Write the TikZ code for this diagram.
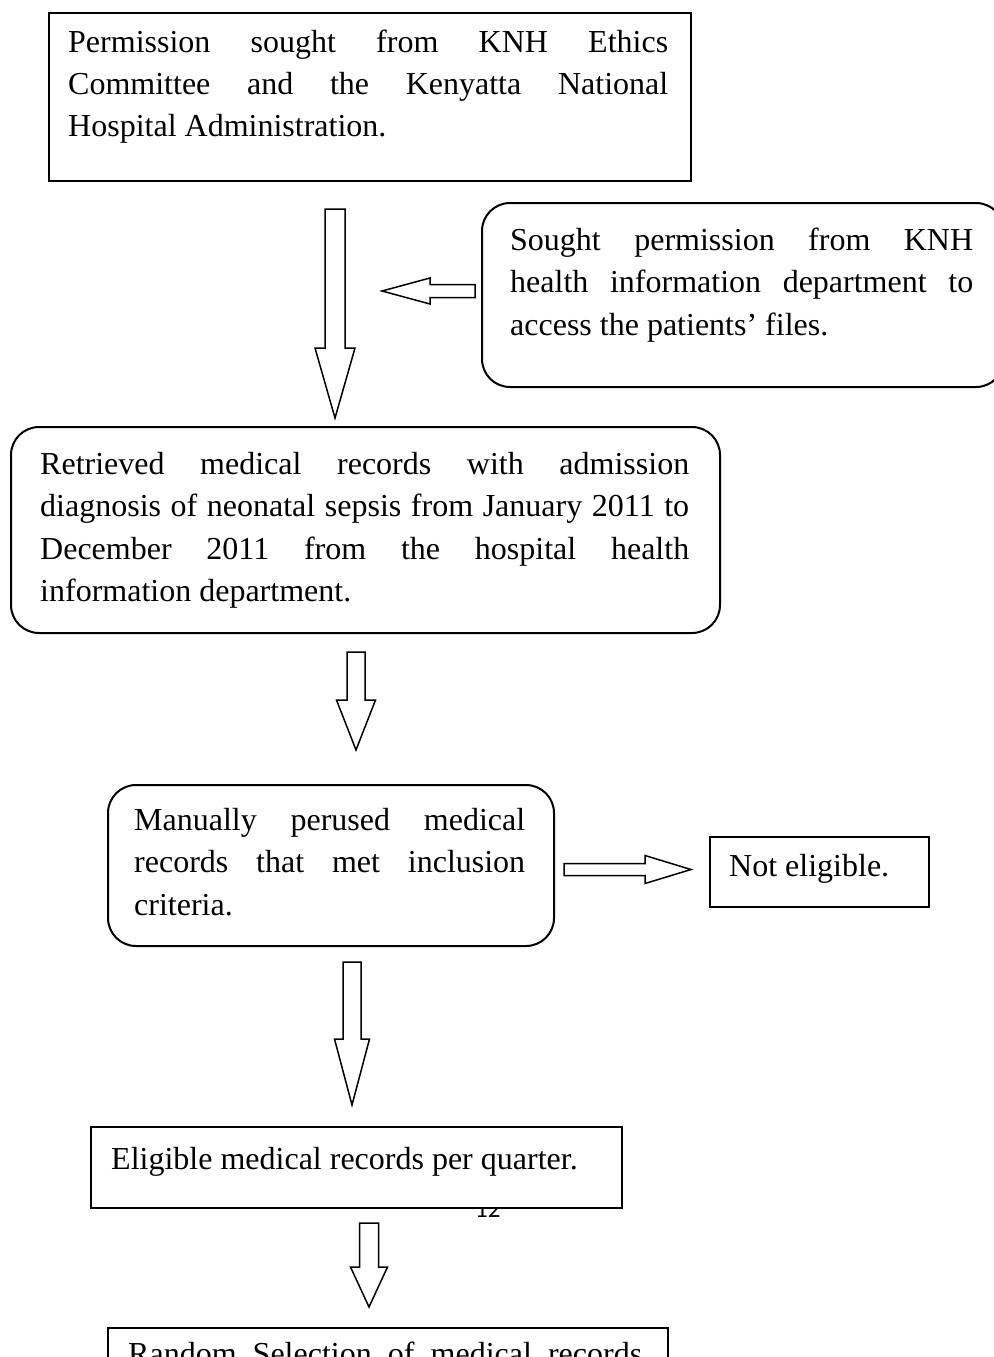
\documentclass[tikz,border=0pt]{standalone}
\usepackage{fontspec}
\setmainfont{Liberation Serif}
\newfontfamily\pgnumfont{Carlito}
\newcommand\fs{\fontsize{32pt}{42.5pt}\selectfont}
\newcommand\jl[1]{\makebox[\linewidth][s]{#1}}
\newcommand\dnarr[6]{% cx, top, headstart, tip, shafthalf, headhalf
  \draw[barrow] (#1-#5,#2) -- (#1+#5,#2) -- (#1+#5,#3) -- (#1+#6,#3) -- (#1,#4) -- (#1-#6,#3) -- (#1-#5,#3) -- cycle;}
\newcommand\hzarr[6]{% cy, start, headbase, tip, shafthalf, headhalf
  \draw[barrow] (#2,#1-#5) -- (#3,#1-#5) -- (#3,#1-#6) -- (#4,#1) -- (#3,#1+#6) -- (#3,#1+#5) -- (#2,#1+#5) -- cycle;}
\tikzset{
  box/.style={draw, line width=2pt, fill=white, inner sep=0pt, anchor=north west},
  rbox/.style={box, rounded corners=28pt},
  barrow/.style={draw, line width=1.5pt, fill=white, line join=miter},
  txt/.style={inner sep=0pt, anchor=base west, font=\fs},
}
\begin{document}
\begin{tikzpicture}[x=1pt,y=-1pt]
\useasboundingbox (0,0) rectangle (993,1357);

% box 1
\node[box, minimum width=642pt, minimum height=168pt] (b1) at (48,12) {};
\node[txt] (t1) at (68,52) {\parbox[t]{600pt}{\fs\jl{Permission sought from KNH Ethics}\\\jl{Committee and the Kenyatta National}\\Hospital Administration.}};

% box 2
\node[rbox, minimum width=522pt, minimum height=184pt] (b2) at (481,202) {};
\node[txt] (t2) at (510,250) {\parbox[t]{463pt}{\fs\jl{Sought permission from KNH}\\\jl{health information department to}\\access the patients’ files.}};

% arrows top
\dnarr{335}{209}{348}{418}{10}{20}
\hzarr{291}{475}{430}{382}{6.5}{13}

% box 3
\node[rbox, minimum width=709pt, minimum height=206pt] (b3) at (10,426) {};
\node[txt] (t3) at (40,474) {\parbox[t]{649pt}{\fs\jl{Retrieved medical records with admission}\\\jl{diagnosis of neonatal sepsis from January 2011 to}\\\jl{December 2011 from the hospital health}\\information department.}};

\dnarr{356}{652}{700}{750}{9}{19.5}

% box 4
\node[rbox, minimum width=446pt, minimum height=161pt] (b4) at (107,784) {};
\node[txt] (t4) at (134,830) {\parbox[t]{391pt}{\fs\jl{Manually perused medical}\\\jl{records that met inclusion}\\criteria.}};

\hzarr{869.5}{564}{645}{691}{6}{14}

% box 5
\node[box, minimum width=219pt, minimum height=70pt] (b5) at (709,836) {};
\node[txt] (t5) at (729,876) {Not eligible.};

\dnarr{352}{962}{1039}{1105}{9}{17.5}

% page number (partly hidden)
\node[inner sep=0pt, anchor=base west, font=\pgnumfont\fontsize{25pt}{30pt}\selectfont] (pg) at (475,1217) {12};

% box 6
\node[box, minimum width=531pt, minimum height=81pt] (b6) at (90,1126) {};
\node[txt] (t6) at (111,1169) {Eligible medical records per quarter.};

\dnarr{369}{1223}{1267}{1307}{9.5}{18.5}

% box 7
\node[box, minimum width=560pt, minimum height=100pt] (b7) at (107,1327) {};
\node[txt] (t7) at (128,1364) {\makebox[514pt][s]{Random Selection of medical records}};
\end{tikzpicture}
\end{document}
